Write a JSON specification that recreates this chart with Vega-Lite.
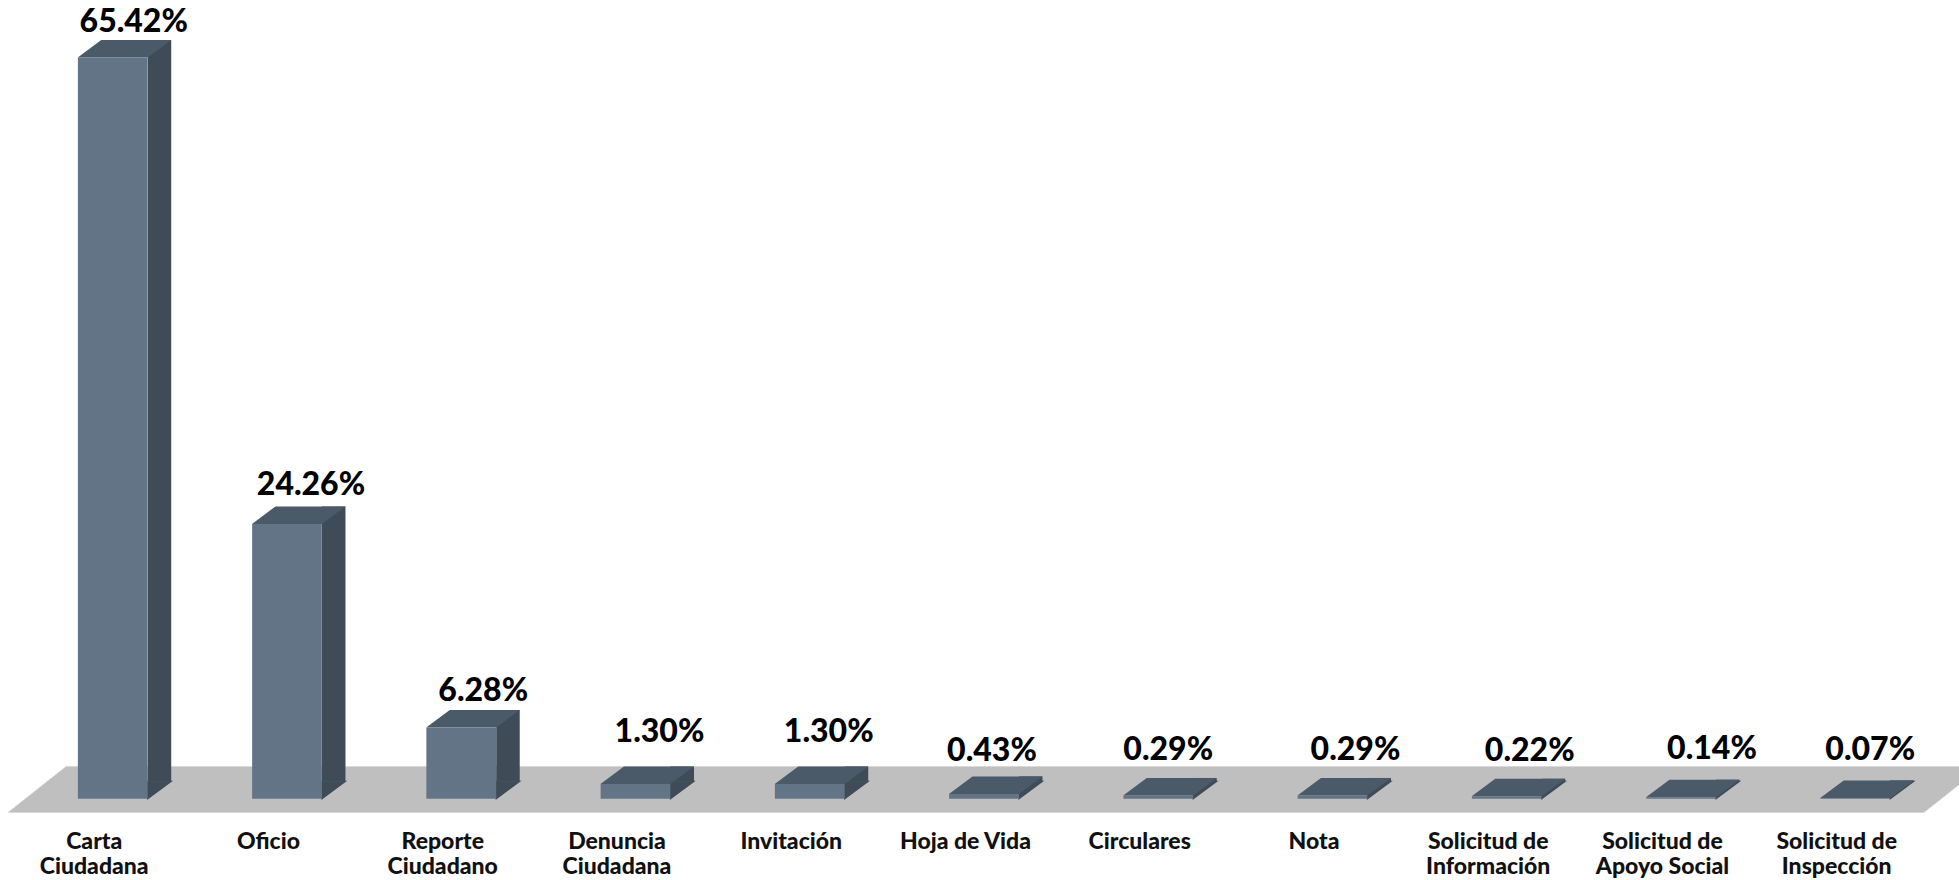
{
"$schema":"https://vega.github.io/schema/vega-lite/v6.json",
"autosize":"none",
"padding":{"left":25.6,"right":16.65,"top":0,"bottom":67.5},
"width":1916.75,"height":812.5,
"background":"white",
"view":{"stroke":null},
"data":{"values":[
{"tipo":"Carta Ciudadana","valor":0.6542},
{"tipo":"Oficio","valor":0.2426},
{"tipo":"Reporte Ciudadano","valor":0.0628},
{"tipo":"Denuncia Ciudadana","valor":0.013},
{"tipo":"Invitación","valor":0.013},
{"tipo":"Hoja de Vida","valor":0.0043},
{"tipo":"Circulares","valor":0.0029},
{"tipo":"Nota","valor":0.0029},
{"tipo":"Solicitud de Información","valor":0.0022},
{"tipo":"Solicitud de Apoyo Social","valor":0.0014},
{"tipo":"Solicitud de Inspección","valor":0.0007}
]},
"encoding":{
"x":{"field":"tipo","type":"nominal","sort":null,"title":null,
"scale":{"paddingInner":0.6,"paddingOuter":0.3},
"axis":{"domain":false,"ticks":false,"grid":false,"labelAngle":0,"labelPadding":18,"labelOffset":-18.5,"labelFont":"Lato","labelFontWeight":900,"labelFontSize":23,"labelColor":"#111111","labelLineHeight":25,"labelBaseline":"top","labelLimit":300,
"labelExpr":"datum.label=='Carta Ciudadana'?['Carta','Ciudadana']:datum.label=='Reporte Ciudadano'?['Reporte','Ciudadano']:datum.label=='Denuncia Ciudadana'?['Denuncia','Ciudadana']:datum.label=='Solicitud de Información'?['Solicitud de','Información']:datum.label=='Solicitud de Apoyo Social'?['Solicitud de','Apoyo Social']:datum.label=='Solicitud de Inspección'?['Solicitud de','Inspección']:datum.label"}},
"y":{"field":"valor","type":"quantitative","title":null,"axis":null,"scale":{"domain":[-0.012136,0.705],"nice":false,"zero":false}}
},
"layer":[
{"transform":[{"filter":"datum.tipo=='Carta Ciudadana'"}],
 "mark":{"type":"point","shape":"M-104.75,13.75L-46.75,-32.25L1869.25,-32.25L1811.25,13.75Z","size":4,"filled":true,"fill":"#bfbfbf","stroke":"#d4d4d4","strokeWidth":0.6,"opacity":1,"clip":false},
 "encoding":{"y":{"datum":0}}},
{"mark":{"type":"bar","width":23.5,"xOffset":46.75,"yOffset":-17.5,"y2Offset":-17.5,"fill":"#3f4c57"}},
{"mark":{"type":"point","shape":"M35,0L58.5,-17.5L35,-17.5Z","size":4,"filled":true,"fill":"#3f4c57","stroke":"#3f4c57","strokeWidth":1.2,"opacity":1},
 "encoding":{"y":{"datum":0}}},
{"mark":{"type":"point","shape":"M-35,0L-11.5,-17.5L58.5,-17.5L35,0Z","size":4,"filled":true,"fill":"#4a5a68","opacity":1,"strokeWidth":0}},
{"mark":{"type":"bar","fill":"#637486"}},
{"transform":[{"filter":"datum.tipo=='Carta Ciudadana'"}],"mark":{"type":"text","font":"Lato","fontWeight":900,"fontSize":32,"fill":"#000","baseline":"middle","dx":21,"dy":-36},"encoding":{"text":{"field":"valor","format":".2%"}}},
{"transform":[{"filter":"datum.tipo=='Oficio'"}],"mark":{"type":"text","font":"Lato","fontWeight":900,"fontSize":32,"fill":"#000","baseline":"middle","dx":24,"dy":-39},"encoding":{"text":{"field":"valor","format":".2%"}}},
{"transform":[{"filter":"datum.tipo=='Reporte Ciudadano'"}],"mark":{"type":"text","font":"Lato","fontWeight":900,"fontSize":32,"fill":"#000","baseline":"middle","dx":22,"dy":-36.6},"encoding":{"text":{"field":"valor","format":".2%"}}},
{"transform":[{"filter":"datum.tipo=='Denuncia Ciudadana'"}],"mark":{"type":"text","font":"Lato","fontWeight":900,"fontSize":32,"fill":"#000","baseline":"middle","dx":24,"dy":-52.5},"encoding":{"text":{"field":"valor","format":".2%"}}},
{"transform":[{"filter":"datum.tipo=='Invitación'"}],"mark":{"type":"text","font":"Lato","fontWeight":900,"fontSize":32,"fill":"#000","baseline":"middle","dx":19,"dy":-52.5},"encoding":{"text":{"field":"valor","format":".2%"}}},
{"transform":[{"filter":"datum.tipo=='Hoja de Vida'"}],"mark":{"type":"text","font":"Lato","fontWeight":900,"fontSize":32,"fill":"#000","baseline":"middle","dx":8,"dy":-43},"encoding":{"text":{"field":"valor","format":".2%"}}},
{"transform":[{"filter":"datum.tipo=='Circulares'"}],"mark":{"type":"text","font":"Lato","fontWeight":900,"fontSize":32,"fill":"#000","baseline":"middle","dx":10,"dy":-45.5},"encoding":{"text":{"field":"valor","format":".2%"}}},
{"transform":[{"filter":"datum.tipo=='Nota'"}],"mark":{"type":"text","font":"Lato","fontWeight":900,"fontSize":32,"fill":"#000","baseline":"middle","dx":23,"dy":-45.5},"encoding":{"text":{"field":"valor","format":".2%"}}},
{"transform":[{"filter":"datum.tipo=='Solicitud de Información'"}],"mark":{"type":"text","font":"Lato","fontWeight":900,"fontSize":32,"fill":"#000","baseline":"middle","dx":23,"dy":-45},"encoding":{"text":{"field":"valor","format":".2%"}}},
{"transform":[{"filter":"datum.tipo=='Solicitud de Apoyo Social'"}],"mark":{"type":"text","font":"Lato","fontWeight":900,"fontSize":32,"fill":"#000","baseline":"middle","dx":31,"dy":-48},"encoding":{"text":{"field":"valor","format":".2%"}}},
{"transform":[{"filter":"datum.tipo=='Solicitud de Inspección'"}],"mark":{"type":"text","font":"Lato","fontWeight":900,"fontSize":32,"fill":"#000","baseline":"middle","dx":15,"dy":-48},"encoding":{"text":{"field":"valor","format":".2%"}}}
]
}
